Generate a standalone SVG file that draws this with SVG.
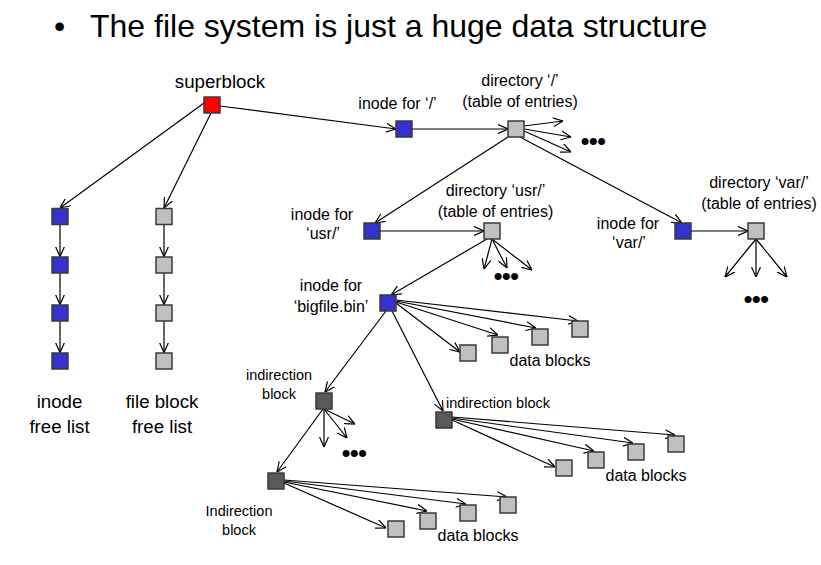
<svg xmlns="http://www.w3.org/2000/svg" width="821" height="565" viewBox="0 0 821 565">
<defs>
<style>
.bx{stroke:#3a3a3a;stroke-width:1.5}
.blue{fill:#3333cc}
.gray{fill:#c0c0c0}
.dark{fill:#595959}
.red{fill:#ff0000}
.ln{stroke:#000;stroke-width:1.2;fill:none;marker-end:url(#ah)}
text{font-family:"Liberation Sans",Arial,sans-serif;fill:#000}
.t16{font-size:16px;text-anchor:middle}
.t145{font-size:14.5px;text-anchor:middle}
.t19{font-size:18.7px;text-anchor:middle}
.dots{font-size:26px;letter-spacing:-0.8px}
</style>
<marker id="ah" viewBox="0 0 10 10" refX="10" refY="5" markerWidth="10" markerHeight="10" markerUnits="userSpaceOnUse" orient="auto">
<path d="M0,0.5 L10,5 L0,9.5" fill="none" stroke="#000" stroke-width="1.2"/>
</marker>
</defs>
<rect width="821" height="565" fill="#fff"/>
<g id="title">
<text x="54" y="37" style="font-size:32px">•</text>
<text x="90" y="37" style="font-size:32px">The file system is just a huge data structure</text>
</g>
<g id="connectors">
<line class="ln" x1="204" y1="103" x2="60" y2="208"/>
<line class="ln" x1="211" y1="113" x2="164" y2="208"/>
<line class="ln" x1="220" y1="106" x2="396" y2="129"/>
<line class="ln" x1="60" y1="225" x2="60" y2="256.5"/>
<line class="ln" x1="60" y1="273" x2="60" y2="304.5"/>
<line class="ln" x1="60" y1="321" x2="60" y2="352.5"/>
<line class="ln" x1="164" y1="225" x2="164" y2="256.5"/>
<line class="ln" x1="164" y1="273" x2="164" y2="304.5"/>
<line class="ln" x1="164" y1="321" x2="164" y2="352.5"/>
<line class="ln" x1="412" y1="129" x2="508" y2="129"/>
<line class="ln" x1="524" y1="126" x2="563" y2="121"/>
<line class="ln" x1="524" y1="129" x2="571" y2="137"/>
<line class="ln" x1="524" y1="131" x2="571" y2="152"/>
<line class="ln" x1="508" y1="137" x2="375" y2="223"/>
<line class="ln" x1="520" y1="137" x2="682" y2="223"/>
<line class="ln" x1="380" y1="231" x2="484" y2="231"/>
<line class="ln" x1="487" y1="239" x2="391" y2="295"/>
<line class="ln" x1="492" y1="239" x2="484" y2="269"/>
<line class="ln" x1="492" y1="239" x2="507" y2="268"/>
<line class="ln" x1="492" y1="239" x2="532" y2="270"/>
<line class="ln" x1="691" y1="231" x2="748" y2="231"/>
<line class="ln" x1="756" y1="239" x2="725" y2="277"/>
<line class="ln" x1="756" y1="239" x2="756" y2="277"/>
<line class="ln" x1="756" y1="239" x2="787" y2="277"/>
<line class="ln" x1="396" y1="303" x2="460" y2="352"/>
<line class="ln" x1="396" y1="302" x2="498" y2="335"/>
<line class="ln" x1="396" y1="301" x2="536" y2="328"/>
<line class="ln" x1="396" y1="300" x2="578" y2="321"/>
<line class="ln" x1="386" y1="311" x2="325" y2="392"/>
<line class="ln" x1="392" y1="311" x2="443" y2="411"/>
<line class="ln" x1="324" y1="409" x2="324" y2="447"/>
<line class="ln" x1="324" y1="409" x2="347" y2="438"/>
<line class="ln" x1="324" y1="409" x2="355" y2="424"/>
<line class="ln" x1="323" y1="409" x2="277" y2="472"/>
<line class="ln" x1="452" y1="420" x2="555" y2="467"/>
<line class="ln" x1="452" y1="419" x2="594" y2="451"/>
<line class="ln" x1="452" y1="418" x2="633" y2="443"/>
<line class="ln" x1="452" y1="417" x2="675" y2="435"/>
<line class="ln" x1="284" y1="483" x2="386" y2="528"/>
<line class="ln" x1="284" y1="482" x2="427" y2="511"/>
<line class="ln" x1="284" y1="481" x2="466" y2="504"/>
<line class="ln" x1="284" y1="480" x2="507" y2="497"/>
</g>
<g id="superblock"><rect class="bx red" x="204" y="97" width="16" height="16"/><text class="t19" x="220" y="88">superblock</text></g>
<g id="inode-free-list">
<rect class="bx blue" x="52" y="208.5" width="16" height="16"/>
<rect class="bx blue" x="52" y="257" width="16" height="16"/>
<rect class="bx blue" x="52" y="305" width="16" height="16"/>
<rect class="bx blue" x="52" y="353" width="16" height="16"/>
<text class="t19" x="59.5" y="408">inode</text>
<text class="t19" x="59.5" y="433">free list</text>
</g>
<g id="block-free-list">
<rect class="bx gray" x="156" y="208.5" width="16" height="16"/>
<rect class="bx gray" x="156" y="257" width="16" height="16"/>
<rect class="bx gray" x="156" y="305" width="16" height="16"/>
<rect class="bx gray" x="156" y="353" width="16" height="16"/>
<text class="t19" x="162" y="408">file block</text>
<text class="t19" x="162" y="433">free list</text>
</g>
<g id="inode-root"><rect class="bx blue" x="396" y="121" width="16" height="16"/><text class="t16" x="397.5" y="109">inode for ‘/’</text></g>
<g id="dir-root"><rect class="bx gray" x="508" y="121" width="16" height="16"/><text class="t16" x="520" y="86">directory ‘/’</text><text class="t16" x="520" y="106.5">(table of entries)</text><text class="dots" x="580.5" y="149.5">•••</text></g>
<g id="inode-usr"><rect class="bx blue" x="364" y="223" width="16" height="16"/><text class="t16" x="322" y="219.5">inode for</text><text class="t16" x="323" y="239">‘usr/’</text></g>
<g id="dir-usr"><rect class="bx gray" x="484" y="223" width="16" height="16"/><text class="t16" x="495.5" y="196">directory ‘usr/’</text><text class="t16" x="495.5" y="216.5">(table of entries)</text><text class="dots" x="493.5" y="284.5">•••</text></g>
<g id="inode-var"><rect class="bx blue" x="675" y="223" width="16" height="16"/><text class="t16" x="628" y="228.5">inode for</text><text class="t16" x="629" y="248">‘var/’</text></g>
<g id="dir-var"><rect class="bx gray" x="748" y="223" width="16" height="16"/><text class="t16" x="759" y="188">directory ‘var/’</text><text class="t16" x="759" y="208.5">(table of entries)</text><text class="dots" x="743.5" y="307.5">•••</text></g>
<g id="inode-bigfile"><rect class="bx blue" x="380" y="295" width="16" height="16"/><text class="t16" x="331" y="291">inode for</text><text class="t16" x="331" y="312">‘bigfile.bin’</text></g>
<g id="data-blocks-1">
<rect class="bx gray" x="460" y="345" width="16" height="16"/>
<rect class="bx gray" x="492" y="337" width="16" height="16"/>
<rect class="bx gray" x="532" y="329" width="16" height="16"/>
<rect class="bx gray" x="572" y="321" width="16" height="16"/>
<text class="t16" x="550" y="366">data blocks</text>
</g>
<g id="indirection-1"><rect class="bx dark" x="316" y="393" width="16" height="16"/><text class="t145" x="279" y="380">indirection</text><text class="t145" x="279" y="399">block</text><text class="dots" x="341.5" y="461.5">•••</text></g>
<g id="indirection-2"><rect class="bx dark" x="436" y="412" width="16" height="16"/><text class="t145" x="498" y="408">indirection block</text></g>
<g id="data-blocks-2">
<rect class="bx gray" x="556" y="460" width="16" height="16"/>
<rect class="bx gray" x="588" y="452" width="16" height="16"/>
<rect class="bx gray" x="628" y="444" width="16" height="16"/>
<rect class="bx gray" x="668" y="436" width="16" height="16"/>
<text class="t16" x="646" y="481">data blocks</text>
</g>
<g id="indirection-3"><rect class="bx dark" x="268" y="473" width="16" height="16"/><text class="t145" x="239" y="516">Indirection</text><text class="t145" x="239" y="535">block</text></g>
<g id="data-blocks-3">
<rect class="bx gray" x="388" y="521" width="16" height="16"/>
<rect class="bx gray" x="420" y="513" width="16" height="16"/>
<rect class="bx gray" x="460" y="505" width="16" height="16"/>
<rect class="bx gray" x="500" y="497" width="16" height="16"/>
<text class="t16" x="478" y="541">data blocks</text>
</g>
</svg>
